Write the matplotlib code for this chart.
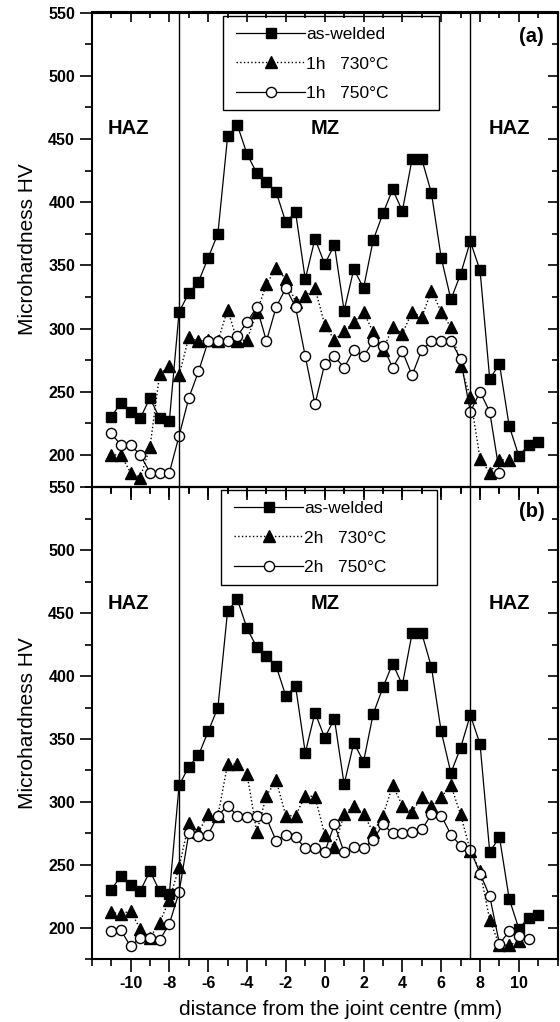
import numpy as np
import matplotlib
matplotlib.use("Agg")
import matplotlib.pyplot as plt
from matplotlib.patches import Rectangle
from matplotlib.ticker import MultipleLocator, FixedLocator

plt.rcParams['font.family'] = ['Liberation Sans', 'DejaVu Sans']
plt.rcParams['axes.unicode_minus'] = False

# ---------------- data ----------------
distance = np.arange(-11.0, 11.01, 0.5)          # measurement positions (mm)

as_welded = [230, 241, 234, 229, 245, 229, 227, 313, 328, 337, 356, 375, 452, 461,
             438, 423, 416, 408, 384, 392, 339, 371, 351, 366, 314, 347, 332, 370,
             391, 410, 393, 434, 434, 407, 356, 323, 343, 369, 346, 260, 272, 223,
             199, 208, 210]

h1_730 = [200, 200, 186, 182, 206, 264, 270, 263, 293, 290, 291, 290, 315, 290,
          291, 313, 335, 348, 339, 321, 326, 332, 303, 291, 298, 305, 313, 297,
          283, 301, 296, 313, 309, 330, 313, 301, 270, 246, 197, 186, 196, 196]

h1_750 = [217, 208, 208, 200, 186, 186, 186, 215, 245, 266, 290, 290, 290, 294,
          305, 317, 290, 317, 332, 317, 278, 240, 272, 278, 269, 283, 278, 290,
          286, 269, 282, 263, 283, 290, 290, 290, 276, 234, 250, 234, 186]

h2_730 = [212, 211, 213, 199, 192, 204, 222, 248, 283, 276, 290, 289, 330, 330,
          322, 276, 305, 317, 289, 289, 305, 304, 274, 264, 290, 297, 290, 276,
          289, 313, 297, 292, 304, 297, 304, 313, 290, 261, 245, 206, 186, 186, 189]

h2_750 = [197, 198, 185, 192, 192, 190, 203, 228, 275, 273, 274, 289, 297, 289,
          288, 289, 287, 269, 274, 272, 263, 263, 260, 282, 260, 264, 263, 270,
          282, 275, 275, 276, 278, 290, 289, 274, 265, 262, 243, 225, 187, 197,
          193, 191]

labels_a = ["as-welded", "1h   730\u00b0C", "1h   750\u00b0C"]
labels_b = ["as-welded", "2h   730\u00b0C", "2h   750\u00b0C"]
zone_labels = ["HAZ", "MZ", "HAZ"]
zone_x = [-10.1, 0.0, 9.5]
panel_tags = ["(a)", "(b)"]
boundaries = [-7.5, 7.5]
xtick_vals = [-10, -8, -6, -4, -2, 0, 2, 4, 6, 8, 10]

# ---------------- figure ----------------
W, H = 560, 1022
fig = plt.figure(figsize=(W / 100, H / 100), dpi=100)

left_px, right_px = 91.7, 557.7
panels_px = [(12.5, 486.5), (487.5, 959.0)]


def add_panel(top_px, bot_px, series, labels, tag, legend_px, frame_px, show_x):
    ax = fig.add_axes([left_px / W, 1 - bot_px / H,
                       (right_px - left_px) / W, (bot_px - top_px) / H])
    ax.set_facecolor('none')
    x = distance
    ax.plot(x[:len(series[0])], series[0], '-', color='k', lw=0.9,
            marker='s', ms=6.5, mfc='k', mec='k', label=labels[0])
    ax.plot(x[:len(series[1])], series[1], ':', color='k', lw=1.0,
            marker='^', ms=8, mfc='k', mec='k', label=labels[1])
    ax.plot(x[:len(series[2])], series[2], '-', color='k', lw=0.9,
            marker='o', ms=7.3, mfc='white', mec='k', mew=1.0, label=labels[2])
    for b in boundaries:
        ax.axvline(b, color='k', lw=1.0)
    ax.set_xlim(-12, 12)
    ax.set_ylim(175, 550)
    ax.yaxis.set_major_locator(MultipleLocator(50))
    ax.yaxis.set_minor_locator(MultipleLocator(25))
    ax.xaxis.set_major_locator(FixedLocator(xtick_vals))
    ax.xaxis.set_minor_locator(MultipleLocator(1))
    ax.tick_params(axis='both', which='major', direction='out', length=9, width=1.2,
                   top=False, right=False, pad=3)
    ax.tick_params(axis='both', which='minor', direction='out', length=5, width=1.2,
                   top=False, right=False)
    for lab in ax.get_yticklabels():
        lab.set_fontsize(11.5); lab.set_fontweight('bold')
    for lab in ax.get_xticklabels():
        lab.set_fontsize(11.5); lab.set_fontweight('bold')
    if not show_x:
        ax.tick_params(axis='x', labelbottom=False)
    for sp in ax.spines.values():
        sp.set_linewidth(1.5)
    # inward ticks on top and right
    sy = ax.secondary_yaxis('right')
    sy.yaxis.set_major_locator(MultipleLocator(50))
    sy.yaxis.set_minor_locator(MultipleLocator(25))
    sy.tick_params(axis='y', which='major', direction='in', length=7, width=1.2, labelright=False)
    sy.tick_params(axis='y', which='minor', direction='in', length=4, width=1.2)
    sy.spines['right'].set_linewidth(1.5)
    sx = ax.secondary_xaxis('top')
    sx.xaxis.set_major_locator(FixedLocator(xtick_vals))
    sx.xaxis.set_minor_locator(MultipleLocator(1))
    sx.tick_params(axis='x', which='major', direction='in', length=7, width=1.2, labeltop=False)
    sx.tick_params(axis='x', which='minor', direction='in', length=4, width=1.2)
    sx.spines['top'].set_linewidth(1.5)

    ax.set_ylabel("Microhardness HV", fontsize=15, labelpad=8)

    hpx = bot_px - top_px
    wpx = right_px - left_px
    # zone labels
    for zx, zl in zip(zone_x, zone_labels):
        ax.text(zx, 458, zl, fontsize=14.5, fontweight='bold', ha='center', va='center')
    ax.text(10.65, 531, tag, fontsize=14.5, fontweight='bold', ha='center', va='center')

    # legend
    lx, ly = legend_px
    ax.legend(loc='upper left',
              bbox_to_anchor=((lx - left_px) / wpx, (bot_px - ly) / hpx),
              frameon=False, fontsize=12.5, handlelength=4.0, handletextpad=0.05,
              borderpad=0, borderaxespad=0, labelspacing=0.82, numpoints=1)
    fx0, fy0, fx1, fy1 = frame_px
    ax.add_patch(Rectangle(((fx0 - left_px) / wpx, (bot_px - fy1) / hpx),
                           (fx1 - fx0) / wpx, (fy1 - fy0) / hpx,
                           transform=ax.transAxes, fill=False, ec='k', lw=1.0,
                           zorder=5))
    return ax

ax1 = add_panel(*panels_px[0], [as_welded, h1_730, h1_750], labels_a, panel_tags[0],
                (236, 27), (223.3, 16, 439.3, 110), False)
ax2 = add_panel(*panels_px[1], [as_welded, h2_730, h2_750], labels_b, panel_tags[1],
                (234, 501), (221.3, 490, 436.7, 585), True)
ax2.set_xlabel("distance from the joint centre (mm)", fontsize=15, labelpad=6)
ax2.xaxis.set_label_coords(0.535, -0.088)

fig.savefig("out.png", dpi=100)
